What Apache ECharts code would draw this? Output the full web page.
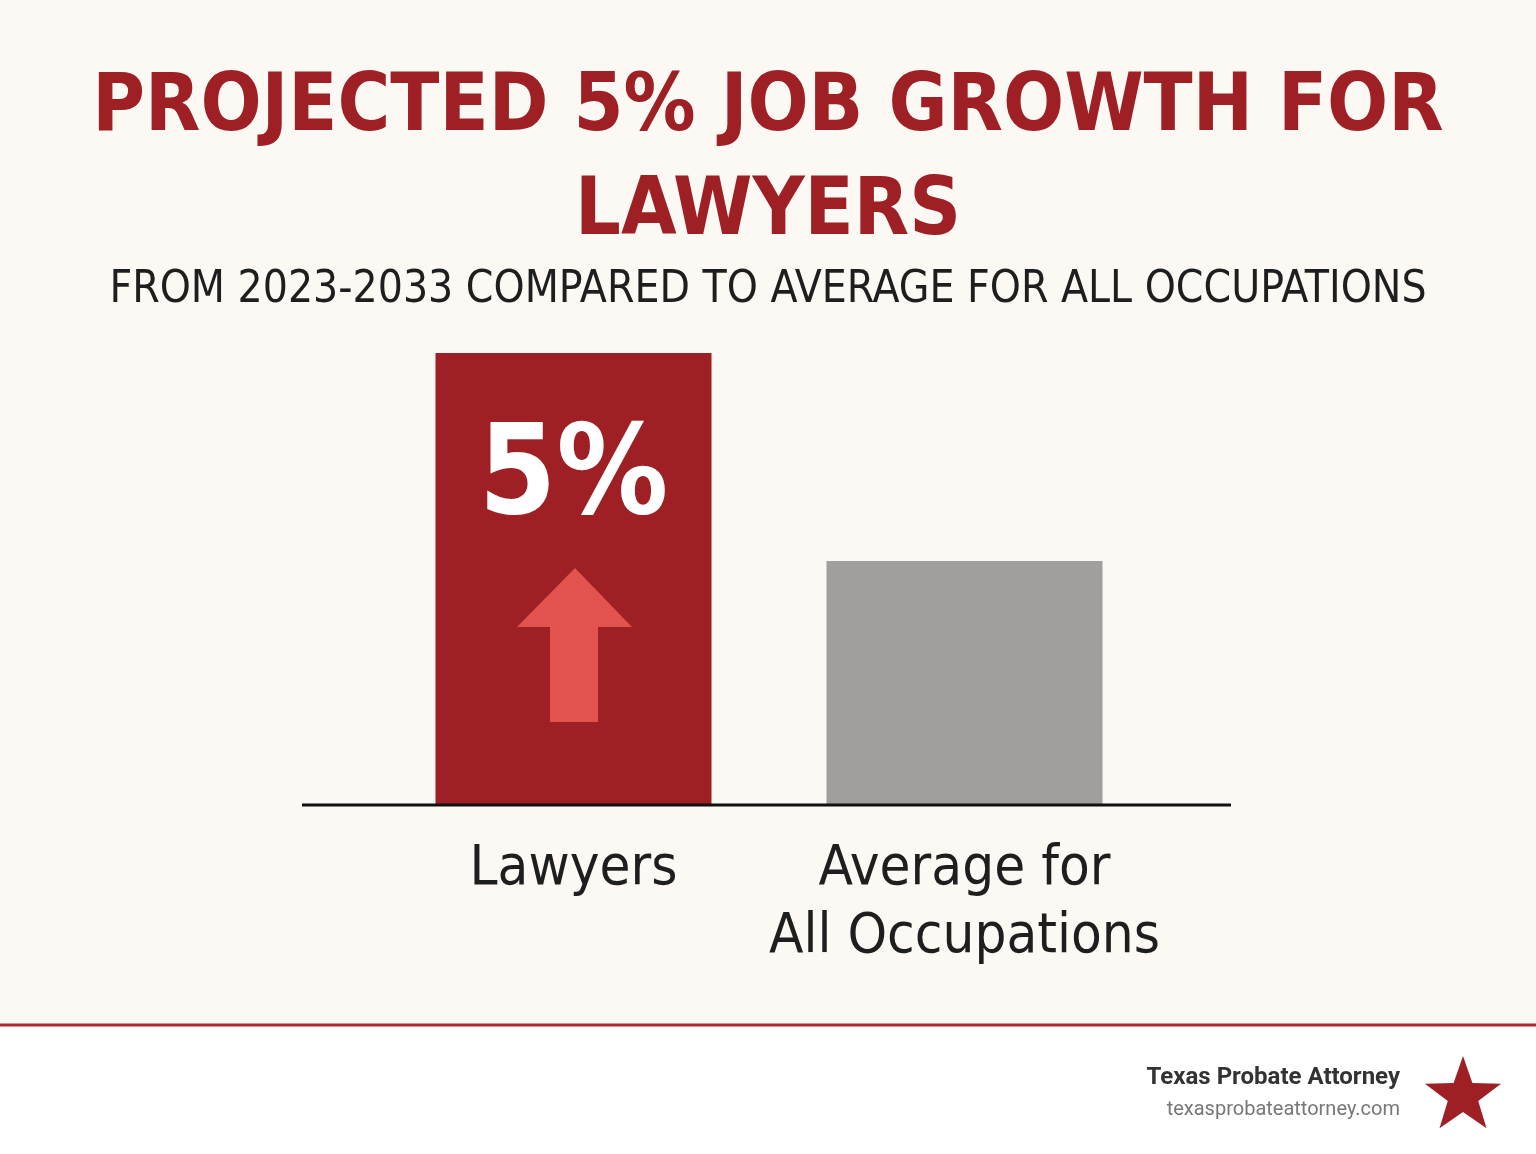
<!DOCTYPE html><html><head><meta charset="utf-8"><script src="https://cdn.jsdelivr.net/npm/echarts@6/dist/echarts.min.js"></script>
<style>html,body{margin:0;padding:0;background:#fcf9f4}#c{width:1536px;height:1154px}</style></head><body><div id="c"></div><script>
const categories = ['Lawyers', 'Average for\nAll Occupations'];
const growth = [5, 2.7];
const barColors = ['#9e1f24', '#a29e9d'];
const titleLines = ['PROJECTED 5% JOB GROWTH FOR', 'LAWYERS'];
const subtitle = 'FROM 2023-2033 COMPARED TO AVERAGE FOR ALL OCCUPATIONS';
const chart = echarts.init(document.getElementById('c'));
const cond = '"DejaVu Sans Condensed","DejaVu Sans",sans-serif';
chart.setOption({
  backgroundColor: '#fcf9f4',
  title: [
    {text: titleLines.join('\n'), left: 'center', top: 52, textStyle: {fontFamily: cond, fontWeight: 'bold', fontSize: 80, lineHeight: 104, color: '#9e1f24'}},
    {text: subtitle, left: 'center', top: 264, textStyle: {fontFamily: cond, fontWeight: 'normal', fontSize: 44, color: '#1e1e1e'}}
  ],
  grid: {left: 378, right: 376, top: 353, bottom: 349},
  xAxis: {type: 'category', data: categories, axisLine: {show: false}, axisTick: {show: false},
    axisLabel: {interval: 0, margin: 30, fontFamily: cond, fontSize: 56, lineHeight: 68, color: '#1e1e1e', verticalAlign: 'top'}},
  yAxis: {type: 'value', min: 0, max: 5, show: false, splitLine: {show: false}},
  series: [{type: 'bar', barWidth: 276,
    data: growth.map((v, i) => ({value: v, itemStyle: {color: barColors[i]},
      label: i === 0 ? {show: true, position: 'insideTop', distance: 66, formatter: '{c}%', color: '#fff', fontFamily: cond, fontWeight: 'bold', fontSize: 124} : {show: false}}))}],
  graphic: [
    {type: 'line', shape: {x1: 302, y1: 805, x2: 1231, y2: 805}, style: {stroke: '#111', lineWidth: 3}, z: 10},
    {type: 'polygon', shape: {points: [[575,568],[632,627],[598,627],[598,722],[550,722],[550,627],[517,627]]}, style: {fill: '#e2524e'}, z: 10},
    {type: 'rect', shape: {x: 0, y: 1026, width: 1536, height: 128}, style: {fill: '#ffffff'}},
    {type: 'line', shape: {x1: 0, y1: 1025, x2: 1536, y2: 1025}, style: {stroke: '#b0292e', lineWidth: 3}},
    {type: 'text', style: {text: 'Texas Probate Attorney', x: 1400, y: 1078, align: 'right', verticalAlign: 'middle', font: 'bold 24px Roboto, sans-serif', fill: '#333'}},
    {type: 'text', style: {text: 'texasprobateattorney.com', x: 1400, y: 1110, align: 'right', verticalAlign: 'middle', font: '20px Roboto, sans-serif', fill: '#777'}},
    {type: 'polygon', shape: {points: (function(){const p=[];for(let k=0;k<10;k++){const r=k%2?16:40;const a=-Math.PI/2+k*Math.PI/5;p.push([1463+r*Math.cos(a),1096+r*Math.sin(a)]);}return p;})()}, style: {fill: '#9e1f24'}}
  ]
});
</script></body></html>
